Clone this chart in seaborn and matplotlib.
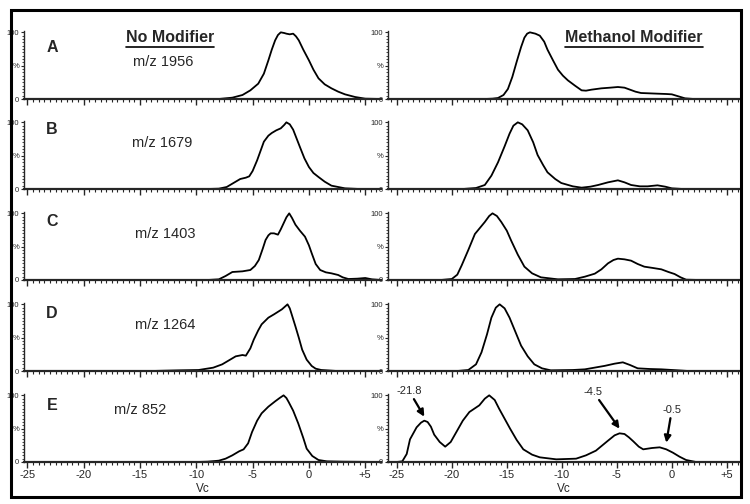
import numpy as np
import matplotlib
matplotlib.use('Agg')
import matplotlib.pyplot as plt
import seaborn as sns
from matplotlib.lines import Line2D
from matplotlib.patches import Rectangle
from matplotlib.ticker import MultipleLocator

# Chromatograms: Vc (x) and relative intensity in % (y)
rows = ['A', 'B', 'C', 'D', 'E']
mz_labels = ['m/z 1956', 'm/z 1679', 'm/z 1403', 'm/z 1264', 'm/z 852']

# --- No modifier (left column) ---
vc_none_A = [-25.3, -8, -6.8, -5.9, -5.2, -4.5, -4.0, -3.6, -3.3, -3.0, -2.75, -2.5, -2.2, -2.0, -1.7, -1.4, -1.15, -0.9, -0.5, 0.0, 0.4, 0.85, 1.4, 2.0, 2.6, 3.2, 4.1, 5.0, 6.4]
pct_none_A = [0, 0, 2, 6, 13, 23, 38, 58, 74, 88, 96, 100, 99, 98, 97, 98, 94, 88, 74, 58, 44, 31, 22, 16, 11, 7, 3, 0.5, 0]

vc_none_B = [-25.3, -9, -8, -7.3, -6.8, -6.1, -5.6, -5.3, -5.0, -4.6, -4.0, -3.6, -3.3, -2.9, -2.5, -2.2, -2.0, -1.7, -1.4, -0.8, -0.4, 0.0, 0.4, 0.85, 1.4, 2.0, 3.2, 4.5, 6.4]
pct_none_B = [0, 0, 0.5, 3, 8, 15, 17, 19, 27, 43, 71, 80, 84, 88, 91, 96, 100, 97, 89, 63, 46, 33, 24, 18, 11, 5, 1, 0, 0]

vc_none_C = [-25.3, -9, -8, -7.4, -6.8, -5.9, -5.2, -4.8, -4.45, -4.1, -3.85, -3.6, -3.4, -3.1, -2.75, -2.5, -2.25, -2.0, -1.75, -1.5, -1.2, -0.8, -0.35, 0.0, 0.25, 0.6, 1.0, 1.5, 2.0, 2.6, 3.0, 3.5, 4.3, 5.0, 5.6, 6.4]
pct_none_C = [0, 0, 1, 6, 12, 13, 15, 21, 30, 47, 60, 67, 70, 70, 68, 76, 85, 94, 100, 93, 83, 74, 65, 52, 40, 24, 15, 11.5, 10, 7.5, 4, 1.5, 2, 3, 1, 0]

vc_none_D = [-25.3, -14, -11.5, -9.8, -8.5, -7.7, -7.0, -6.5, -5.9, -5.6, -5.2, -4.9, -4.5, -4.2, -3.6, -3.1, -2.4, -2.1, -1.9, -1.7, -1.55, -1.2, -0.9, -0.6, -0.2, 0.25, 0.6, 1.1, 2.5, 6.4]
pct_none_D = [0, 0, 1, 1.5, 5, 10, 17, 22, 24, 23, 34, 47, 61, 70, 80, 85, 92.5, 97, 100, 94, 86, 67, 50, 32, 17, 7.5, 3.5, 1.5, 0, 0]

vc_none_E = [-25.3, -10, -9, -8.0, -7.4, -6.8, -6.2, -5.8, -5.4, -5.05, -4.6, -4.2, -3.6, -3.0, -2.6, -2.25, -2.0, -1.8, -1.4, -0.95, -0.5, -0.2, 0.3, 0.85, 1.6, 3, 6.4]
pct_none_E = [0, 0, 0.5, 2, 5, 10, 16, 19, 28, 45, 62, 73, 83, 91, 96, 100, 96, 90, 77, 58, 36, 20, 9, 3, 1, 0.5, 0]

# --- Methanol modifier (right column) ---
vc_meoh_A = [-25.8, -17, -16.3, -15.8, -15.3, -14.9, -14.5, -14.1, -13.7, -13.4, -13.15, -12.9, -12.4, -12.0, -11.6, -11.3, -10.8, -10.35, -9.9, -9.45, -8.8, -8.2, -7.8, -7.3, -6.4, -5.6, -4.9, -4.3, -3.8, -3.3, -2.8, -1.3, -0.5, 0.0, 0.6, 1.2, 2, 6.2]
pct_meoh_A = [0, 0, 0.5, 1.5, 6, 15, 33, 56, 78, 92, 98, 100, 98, 95, 86, 74, 58, 44, 35, 28, 20, 13, 12.5, 14, 16, 17, 18, 17, 14, 11, 9, 8, 7.5, 7, 4, 1, 0, 0]

vc_meoh_B = [-25.8, -19, -17.8, -17.0, -16.4, -15.8, -15.2, -14.75, -14.4, -14.0, -13.6, -13.1, -12.6, -12.2, -11.7, -11.3, -10.6, -10.05, -9, -8.2, -7.4, -6.7, -5.8, -4.9, -4.3, -3.7, -2.9, -2.2, -1.3, -0.6, 0.0, 1, 6.2]
pct_meoh_B = [0, 0, 1.5, 6, 20, 40, 64, 83, 95, 100, 97, 88, 70, 51, 36, 25, 15, 9, 4, 2, 3.5, 6, 10, 13, 10, 6, 4, 4, 5.5, 3.5, 1, 0, 0]

vc_meoh_C = [-25.8, -21, -20.0, -19.5, -19.1, -18.5, -17.9, -17.0, -16.6, -16.3, -15.9, -15.5, -15.0, -14.6, -14.0, -13.4, -12.7, -11.9, -10.35, -8.8, -7.9, -7.0, -6.4, -5.8, -5.3, -4.9, -4.3, -3.7, -3.1, -2.5, -1.7, -0.95, -0.3, 0.25, 0.8, 1.3, 2.5, 6.2]
pct_meoh_C = [0, 0, 1.5, 8, 22, 45, 69, 87, 96, 100, 96, 87, 74, 59, 38, 20, 10, 4, 1, 1.5, 5, 9.5, 16, 25, 30, 32, 31, 29, 24, 20, 18, 16, 12, 9, 4, 0.5, 0, 0]

vc_meoh_D = [-25.8, -19.5, -18.5, -17.8, -17.3, -16.8, -16.4, -16.0, -15.65, -15.2, -14.75, -14.2, -13.7, -13.1, -12.5, -11.8, -11.0, -9, -7.9, -6.1, -5.2, -4.45, -3.8, -3.1, -2, -0.95, 0.55, 1.5, 6.2]
pct_meoh_D = [0, 0, 1.5, 10, 28, 55, 80, 95, 100, 94, 80, 58, 38, 22, 10, 4, 1, 1.5, 2.5, 7.7, 11, 13, 9, 4, 3, 2.5, 1, 0, 0]

vc_meoh_E = [-25.8, -25, -24.5, -24.1, -23.8, -23.2, -22.8, -22.5, -22.2, -21.9, -21.6, -21.1, -20.6, -20.1, -19.6, -19.0, -18.4, -17.5, -17.0, -16.6, -16.1, -15.7, -15.2, -14.7, -14.1, -13.5, -12.7, -12.0, -10.5, -8.7, -7.8, -6.9, -5.8, -5.2, -4.75, -4.3, -3.9, -3.5, -3.0, -2.6, -1.8, -1.1, -0.5, 0.1, 0.7, 1.3, 2.2, 6.2]
pct_meoh_E = [0, 0, 1, 12, 34, 52, 59, 62, 60, 53, 41, 30, 23, 30, 44.5, 62, 75, 85, 95, 100, 93, 80, 65, 50, 33, 19, 11, 7, 4, 5, 10, 17, 32, 40, 43, 42, 37, 31, 23, 19, 21, 22, 19, 14, 8, 3, 0, 0]

# peak labels in panel E (methanol)
ann_labels = ['-21.8', '-4.5', '-0.5']
ann_x = [-22.5, -4.75, -0.5]
ann_y = [68, 50, 29]

x_ticks = [-25, -20, -15, -10, -5, 0, 5]
x_ticklabels = ['-25', '-20', '-15', '-10', '-5', '0', '+5']

left_curves = [(vc_none_A, pct_none_A), (vc_none_B, pct_none_B), (vc_none_C, pct_none_C),
               (vc_none_D, pct_none_D), (vc_none_E, pct_none_E)]
right_curves = [(vc_meoh_A, pct_meoh_A), (vc_meoh_B, pct_meoh_B), (vc_meoh_C, pct_meoh_C),
                (vc_meoh_D, pct_meoh_D), (vc_meoh_E, pct_meoh_E)]

sns.set_style('white')
plt.rcParams['font.family'] = ['Liberation Sans', 'DejaVu Sans']

W, H = 750, 504
fig = plt.figure(figsize=(W / 100, H / 100), dpi=100)

baselines = [99, 189, 280, 371, 462]
panel_h = 68


def style_axes(ax, xlim, bottom_row):
    ax.set_xlim(*xlim)
    ax.set_ylim(0, 102)
    for s in ['top', 'right']:
        ax.spines[s].set_visible(False)
    ax.spines['bottom'].set_linewidth(1.6)
    ax.spines['left'].set_linewidth(1.0)
    ax.xaxis.set_major_locator(MultipleLocator(5))
    ax.xaxis.set_minor_locator(MultipleLocator(0.5))
    ax.set_yticks([0, 50, 100])
    ax.set_yticklabels(['0', '%', '100'], fontsize=5.5)
    ax.yaxis.set_minor_locator(MultipleLocator(5))
    ax.tick_params(axis='x', which='both', bottom=True)
    ax.tick_params(axis='y', which='both', left=True)
    ax.tick_params(axis='x', which='major', direction='out', length=4, width=1, pad=2)
    ax.tick_params(axis='x', which='minor', direction='out', length=2.5, width=0.8)
    ax.tick_params(axis='y', which='major', direction='out', length=2.5, width=0.8, pad=1)
    ax.tick_params(axis='y', which='minor', direction='out', length=1.5, width=0.6)
    ax.set_ylabel('')
    if bottom_row:
        ax.set_xticks(x_ticks)
        ax.set_xticklabels(x_ticklabels, fontsize=8)
        ax.set_xlabel('Vc', fontsize=8.5, labelpad=2)
    else:
        ax.set_xticklabels([])
        ax.set_xlabel('')


for i, base in enumerate(baselines):
    bottom = 1 - base / H
    axl = fig.add_axes([24 / W, bottom, (381 - 24) / W, panel_h / H])
    axr = fig.add_axes([388 / W, bottom, (740 - 388) / W, panel_h / H])

    xl, yl = left_curves[i]
    xr, yr = right_curves[i]
    sns.lineplot(x=xl, y=yl, ax=axl, color='black', linewidth=1.3, estimator=None, sort=False)
    sns.lineplot(x=xr, y=yr, ax=axr, color='black', linewidth=1.3, estimator=None, sort=False)

    style_axes(axl, (-25.3, 6.4), i == 4)
    style_axes(axr, (-25.8, 6.2), i == 4)

    # row letter and mass label
    row_y = [47, 130, 222, 313, 405][i]
    mz_pos = [(163, 62), (162, 143), (165, 234), (165, 325), (140, 410)][i]
    fig.text(52 / W, 1 - row_y / H, rows[i], fontsize=11.5, fontweight='bold', ha='center', va='center')
    fig.text(mz_pos[0] / W, 1 - mz_pos[1] / H, mz_labels[i], fontsize=10.5, ha='center', va='center')

    if i == 4:
        offsets = [(-11, 15), (-19, 23), (4, 20)]
        for lab, ax_, ay_, off in zip(ann_labels, ann_x, ann_y, offsets):
            axr.annotate(lab, xy=(ax_, ay_), xytext=off, textcoords='offset points',
                         ha='center', va='bottom', fontsize=8, annotation_clip=False,
                         arrowprops=dict(arrowstyle='-|>', color='black', lw=1.6,
                                         mutation_scale=10, shrinkA=0, shrinkB=0))

# column headers, underlined
t1 = fig.text(170 / W, 1 - 38 / H, 'No Modifier', fontsize=11.5, fontweight='bold', ha='center', va='center')
t2 = fig.text(634 / W, 1 - 38 / H, 'Methanol Modifier', fontsize=11.5, fontweight='bold', ha='center', va='center')
fig.canvas.draw()
renderer = fig.canvas.get_renderer()
for t in (t1, t2):
    bb = t.get_window_extent(renderer)
    y = bb.y0 - 1
    fig.add_artist(Line2D([bb.x0 / W, bb.x1 / W], [y / H, y / H], color='black', lw=1.2))

# outer frame
fig.add_artist(Rectangle((11 / W, 7 / H), (741 - 11) / W, (494 - 7) / H, fill=False,
                         edgecolor='black', linewidth=2.2, transform=fig.transFigure))

fig.savefig('out.png', dpi=100, facecolor='white')
